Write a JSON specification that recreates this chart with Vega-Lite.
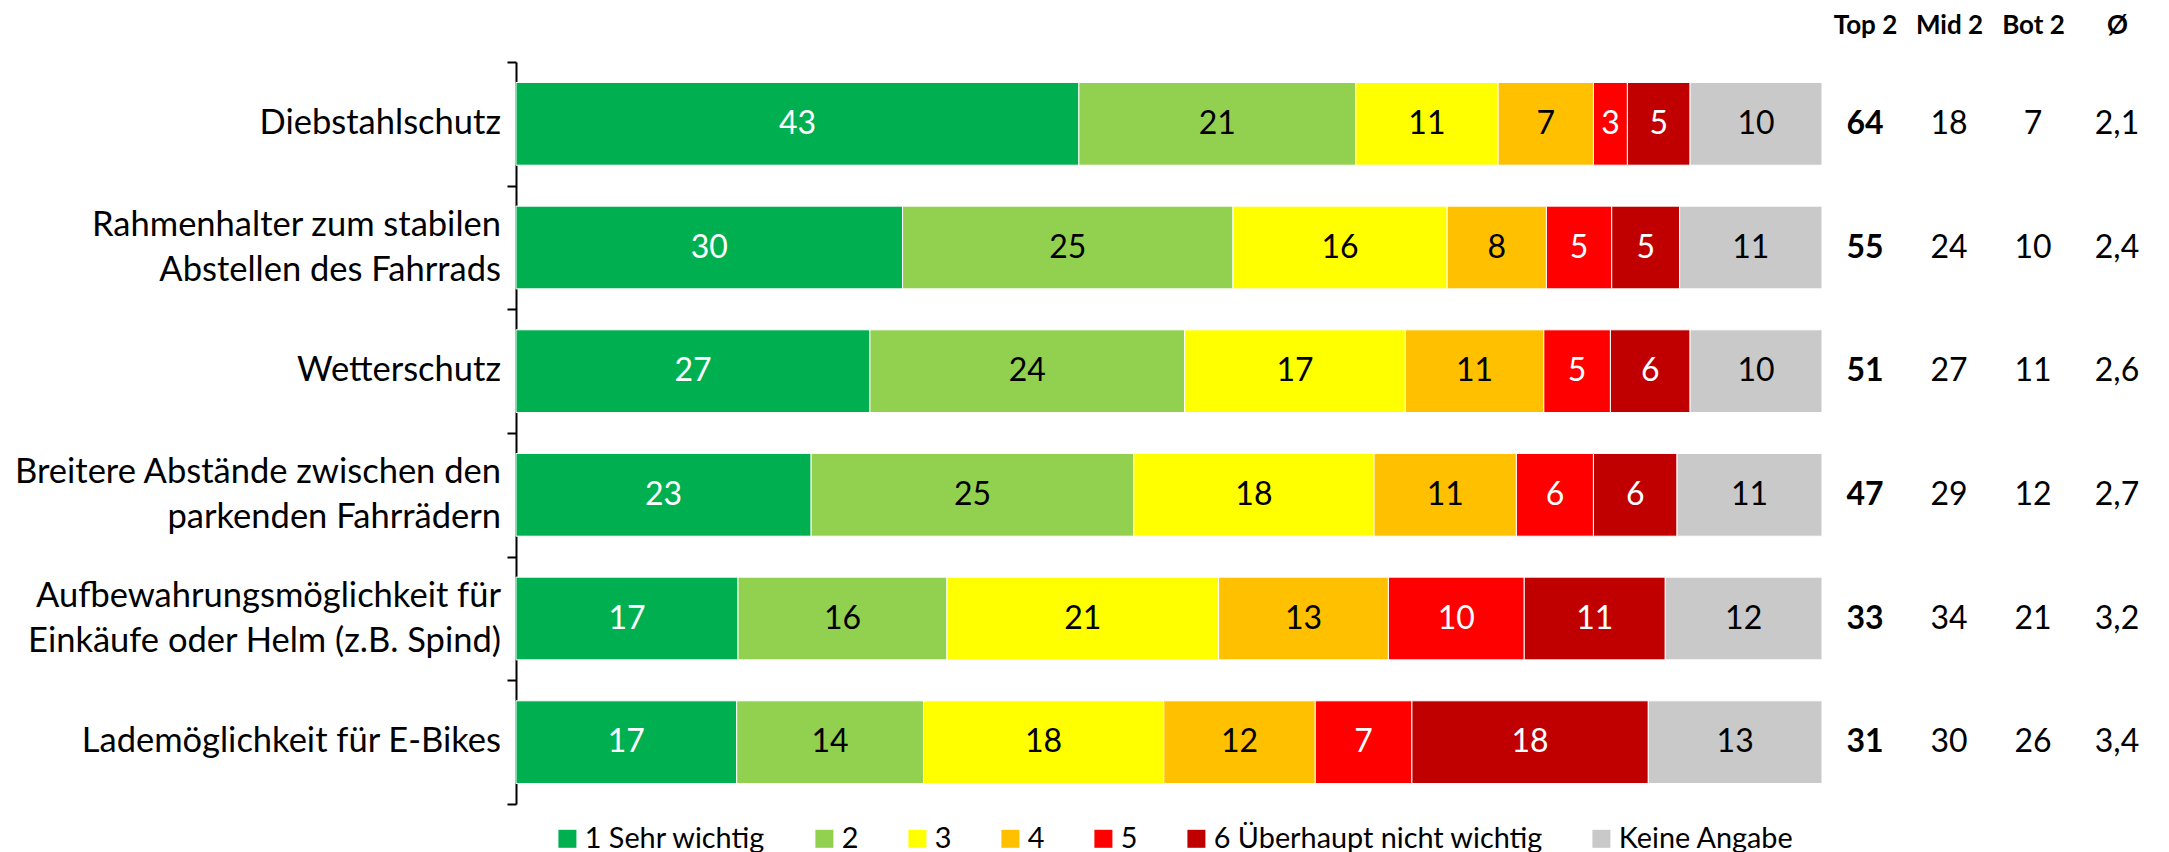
{
  "$schema": "https://vega.github.io/schema/vega-lite/v6.json",
  "padding": 5,
  "background": "white",
  "spacing": 0,
  "config": {"view": {"stroke": null}, "font": "Lato", "text": {"font": "Lato"}},
  "datasets": {
    "ratings": [
      {"item": "Diebstahlschutz", "cat": "1 Sehr wichtig", "rank": 1, "value": 43.1},
      {"item": "Diebstahlschutz", "cat": "2", "rank": 2, "value": 21.2},
      {"item": "Diebstahlschutz", "cat": "3", "rank": 3, "value": 10.9},
      {"item": "Diebstahlschutz", "cat": "4", "rank": 4, "value": 7.3},
      {"item": "Diebstahlschutz", "cat": "5", "rank": 5, "value": 2.6},
      {"item": "Diebstahlschutz", "cat": "6 Überhaupt nicht wichtig", "rank": 6, "value": 4.8},
      {"item": "Diebstahlschutz", "cat": "Keine Angabe", "rank": 7, "value": 10.1},
      {"item": "Rahmenhalter zum stabilen|Abstellen des Fahrrads", "cat": "1 Sehr wichtig", "rank": 1, "value": 29.6},
      {"item": "Rahmenhalter zum stabilen|Abstellen des Fahrrads", "cat": "2", "rank": 2, "value": 25.3},
      {"item": "Rahmenhalter zum stabilen|Abstellen des Fahrrads", "cat": "3", "rank": 3, "value": 16.4},
      {"item": "Rahmenhalter zum stabilen|Abstellen des Fahrrads", "cat": "4", "rank": 4, "value": 7.6},
      {"item": "Rahmenhalter zum stabilen|Abstellen des Fahrrads", "cat": "5", "rank": 5, "value": 5.0},
      {"item": "Rahmenhalter zum stabilen|Abstellen des Fahrrads", "cat": "6 Überhaupt nicht wichtig", "rank": 6, "value": 5.2},
      {"item": "Rahmenhalter zum stabilen|Abstellen des Fahrrads", "cat": "Keine Angabe", "rank": 7, "value": 10.9},
      {"item": "Wetterschutz", "cat": "1 Sehr wichtig", "rank": 1, "value": 27.1},
      {"item": "Wetterschutz", "cat": "2", "rank": 2, "value": 24.1},
      {"item": "Wetterschutz", "cat": "3", "rank": 3, "value": 16.9},
      {"item": "Wetterschutz", "cat": "4", "rank": 4, "value": 10.6},
      {"item": "Wetterschutz", "cat": "5", "rank": 5, "value": 5.1},
      {"item": "Wetterschutz", "cat": "6 Überhaupt nicht wichtig", "rank": 6, "value": 6.1},
      {"item": "Wetterschutz", "cat": "Keine Angabe", "rank": 7, "value": 10.1},
      {"item": "Breitere Abstände zwischen den|parkenden Fahrrädern", "cat": "1 Sehr wichtig", "rank": 1, "value": 22.6},
      {"item": "Breitere Abstände zwischen den|parkenden Fahrrädern", "cat": "2", "rank": 2, "value": 24.7},
      {"item": "Breitere Abstände zwischen den|parkenden Fahrrädern", "cat": "3", "rank": 3, "value": 18.4},
      {"item": "Breitere Abstände zwischen den|parkenden Fahrrädern", "cat": "4", "rank": 4, "value": 10.9},
      {"item": "Breitere Abstände zwischen den|parkenden Fahrrädern", "cat": "5", "rank": 5, "value": 5.9},
      {"item": "Breitere Abstände zwischen den|parkenden Fahrrädern", "cat": "6 Überhaupt nicht wichtig", "rank": 6, "value": 6.4},
      {"item": "Breitere Abstände zwischen den|parkenden Fahrrädern", "cat": "Keine Angabe", "rank": 7, "value": 11.1},
      {"item": "Aufbewahrungsmöglichkeit für|Einkäufe oder Helm (z.B. Spind)", "cat": "1 Sehr wichtig", "rank": 1, "value": 17.0},
      {"item": "Aufbewahrungsmöglichkeit für|Einkäufe oder Helm (z.B. Spind)", "cat": "2", "rank": 2, "value": 16.0},
      {"item": "Aufbewahrungsmöglichkeit für|Einkäufe oder Helm (z.B. Spind)", "cat": "3", "rank": 3, "value": 20.8},
      {"item": "Aufbewahrungsmöglichkeit für|Einkäufe oder Helm (z.B. Spind)", "cat": "4", "rank": 4, "value": 13.0},
      {"item": "Aufbewahrungsmöglichkeit für|Einkäufe oder Helm (z.B. Spind)", "cat": "5", "rank": 5, "value": 10.4},
      {"item": "Aufbewahrungsmöglichkeit für|Einkäufe oder Helm (z.B. Spind)", "cat": "6 Überhaupt nicht wichtig", "rank": 6, "value": 10.8},
      {"item": "Aufbewahrungsmöglichkeit für|Einkäufe oder Helm (z.B. Spind)", "cat": "Keine Angabe", "rank": 7, "value": 12.0},
      {"item": "Lademöglichkeit für E-Bikes", "cat": "1 Sehr wichtig", "rank": 1, "value": 16.9},
      {"item": "Lademöglichkeit für E-Bikes", "cat": "2", "rank": 2, "value": 14.3},
      {"item": "Lademöglichkeit für E-Bikes", "cat": "3", "rank": 3, "value": 18.4},
      {"item": "Lademöglichkeit für E-Bikes", "cat": "4", "rank": 4, "value": 11.6},
      {"item": "Lademöglichkeit für E-Bikes", "cat": "5", "rank": 5, "value": 7.4},
      {"item": "Lademöglichkeit für E-Bikes", "cat": "6 Überhaupt nicht wichtig", "rank": 6, "value": 18.1},
      {"item": "Lademöglichkeit für E-Bikes", "cat": "Keine Angabe", "rank": 7, "value": 13.3}
    ],
    "stats": [
      {"item": "Diebstahlschutz", "Top 2": "64", "Mid 2": "18", "Bot 2": "7", "Ø": "2,1"},
      {"item": "Rahmenhalter zum stabilen|Abstellen des Fahrrads", "Top 2": "55", "Mid 2": "24", "Bot 2": "10", "Ø": "2,4"},
      {"item": "Wetterschutz", "Top 2": "51", "Mid 2": "27", "Bot 2": "11", "Ø": "2,6"},
      {"item": "Breitere Abstände zwischen den|parkenden Fahrrädern", "Top 2": "47", "Mid 2": "29", "Bot 2": "12", "Ø": "2,7"},
      {"item": "Aufbewahrungsmöglichkeit für|Einkäufe oder Helm (z.B. Spind)", "Top 2": "33", "Mid 2": "34", "Bot 2": "21", "Ø": "3,2"},
      {"item": "Lademöglichkeit für E-Bikes", "Top 2": "31", "Mid 2": "30", "Bot 2": "26", "Ø": "3,4"}
    ]
  },
  "hconcat": [
    {
      "width": 1306,
      "height": 742,
      "data": {"name": "ratings"},
      "encoding": {
        "y": {
          "field": "item", "type": "nominal", "sort": null,
          "scale": {"paddingInner": 0, "paddingOuter": 0},
          "axis": {
            "title": null, "domainColor": "black", "domainWidth": 2,
            "tickColor": "black", "tickWidth": 2, "tickSize": 9, "tickBand": "extent",
            "labels": false, "minExtent": 511, "maxExtent": 511
          }
        }
      },
      "layer": [
        {
          "mark": {"type": "bar", "height": {"band": 0.669}, "stroke": "white", "strokeWidth": 1},
          "encoding": {
            "x": {"field": "value", "type": "quantitative", "stack": "zero", "scale": {"domain": [0, 100], "nice": false}, "axis": null},
            "color": {
              "field": "cat", "type": "nominal", "sort": null,
              "scale": {
                "domain": ["1 Sehr wichtig", "2", "3", "4", "5", "6 Überhaupt nicht wichtig", "Keine Angabe"],
                "range": ["#00B050", "#92D050", "#FFFF00", "#FFC000", "#FF0000", "#C00000", "#C9C9C9"]
              },
              "legend": {
                "title": null, "orient": "none", "legendX": 37, "legendY": 762,
                "direction": "horizontal", "columns": 7, "symbolType": "square",
                "symbolSize": 324, "symbolStrokeWidth": 0, "symbolOpacity": 1,
                "labelFontSize": 28.8, "labelColor": "black", "labelOffset": 3,
                "columnPadding": 44, "padding": 0, "labelLimit": 500
              }
            },
            "order": {"field": "rank", "type": "quantitative"}
          }
        },
        {
          "mark": {"type": "text", "fontSize": 32, "baseline": "middle"},
          "encoding": {
            "x": {"field": "value", "type": "quantitative", "stack": "zero", "bandPosition": 0.5},
            "text": {"field": "value", "type": "quantitative", "format": ".0f"},
            "detail": {"field": "cat"},
            "order": {"field": "rank", "type": "quantitative"},
            "color": {"condition": {"test": "datum.rank == 1 || datum.rank == 5 || datum.rank == 6", "value": "white"}, "value": "black"}
          }
        },
        {
          "data": {"name": "stats"},
          "transform": [{"filter": "indexof(datum.item, '|') < 0"}],
          "mark": {"type": "text", "fontSize": 34.5, "align": "right", "baseline": "middle", "dx": -15, "color": "black"},
          "encoding": {
            "x": {"datum": 0, "type": "quantitative"},
            "text": {"field": "item", "type": "nominal"}
          }
        },
        {
          "data": {"name": "stats"},
          "transform": [{"filter": "indexof(datum.item, '|') >= 0"}],
          "mark": {"type": "text", "fontSize": 34.5, "align": "right", "baseline": "line-bottom", "lineBreak": "|", "lineHeight": 45, "dx": -15, "color": "black"},
          "encoding": {
            "x": {"datum": 0, "type": "quantitative"},
            "text": {"field": "item", "type": "nominal"}
          }
        }
      ]
    },
    {
      "width": 336,
      "height": 742,
      "data": {"name": "stats"},
      "transform": [{"fold": ["Top 2", "Mid 2", "Bot 2", "Ø"], "as": ["col", "val"]}],
      "encoding": {
        "y": {"field": "item", "type": "nominal", "sort": null, "scale": {"paddingInner": 0, "paddingOuter": 0}, "axis": null},
        "x": {
          "field": "col", "type": "nominal", "sort": ["Top 2", "Mid 2", "Bot 2", "Ø"],
          "scale": {"paddingInner": 0, "paddingOuter": 0},
          "axis": {
            "orient": "top", "title": null, "ticks": false, "tickSize": 0, "domain": false,
            "labelFontSize": 26, "labelFontWeight": "bold", "labelColor": "black",
            "labelPadding": 29, "labelBaseline": "alphabetic", "labelAngle": 0,
            "minExtent": 57, "maxExtent": 57
          }
        },
        "text": {"field": "val", "type": "nominal"}
      },
      "layer": [
        {"transform": [{"filter": "datum.col == 'Top 2'"}], "mark": {"type": "text", "fontSize": 32, "fontWeight": "bold", "color": "black"}},
        {"transform": [{"filter": "datum.col != 'Top 2'"}], "mark": {"type": "text", "fontSize": 32, "color": "black"}}
      ]
    }
  ],
  "resolve": {"scale": {"y": "independent", "x": "independent"}}
}
